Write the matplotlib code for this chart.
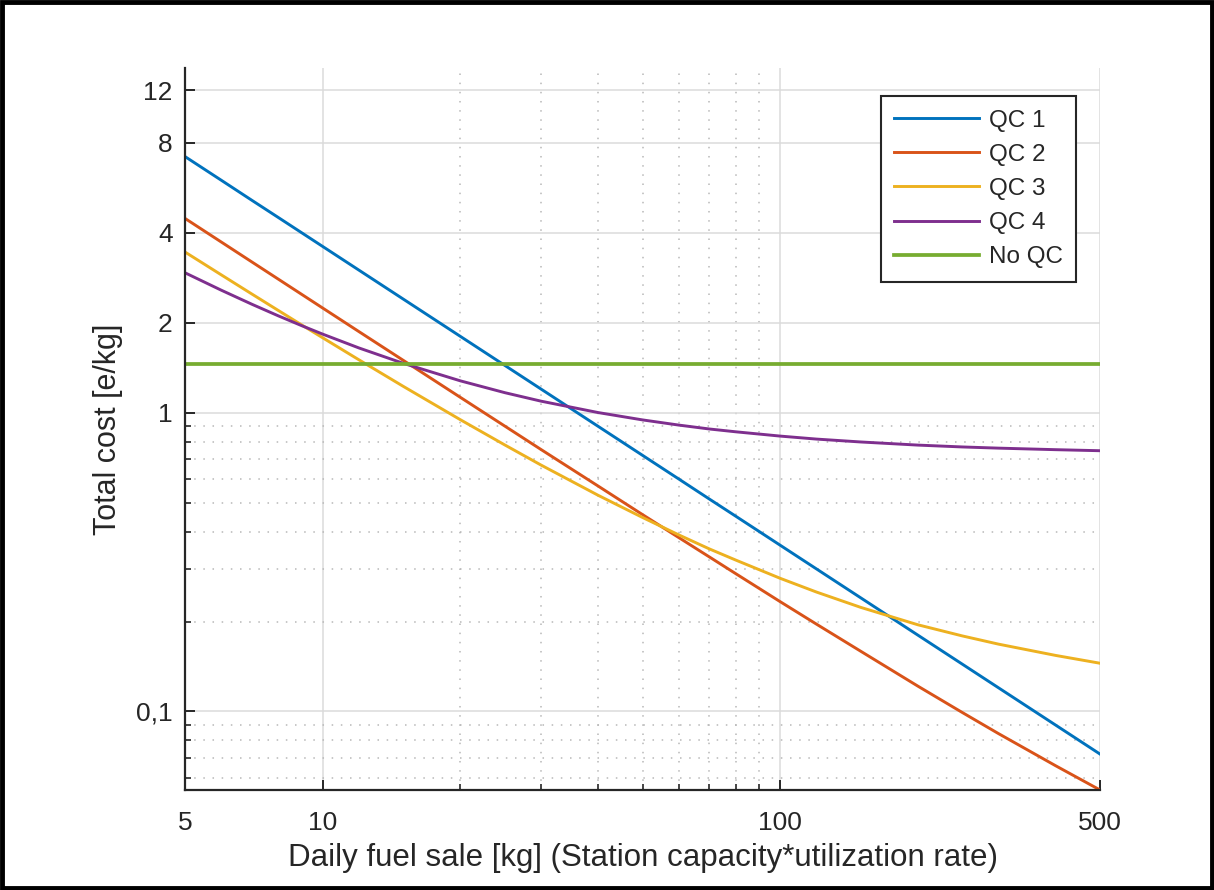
import numpy as np
import matplotlib
matplotlib.use("Agg")
import matplotlib.pyplot as plt
from matplotlib.ticker import FixedLocator, NullFormatter
from matplotlib.patches import Rectangle

plt.rcParams['font.family'] = ['Liberation Sans', 'DejaVu Sans']

# values
sale = [5, 6, 7, 8, 9, 10, 12, 15, 20, 25, 30, 40, 50, 60, 70, 80,
        100, 120, 150, 200, 250, 300, 400, 500]
qc1 = [7.2, 6.0, 5.14, 4.5, 4.0, 3.6, 3.0, 2.4, 1.8, 1.44, 1.2, 0.9, 0.72, 0.6,
       0.514, 0.45, 0.36, 0.3, 0.24, 0.18, 0.144, 0.12, 0.09, 0.072]
qc2 = [4.47, 3.727, 3.196, 2.798, 2.488, 2.24, 1.868, 1.497, 1.125, 0.902, 0.753,
       0.568, 0.456, 0.382, 0.329, 0.289, 0.233, 0.196, 0.159, 0.1215, 0.0992,
       0.0843, 0.0658, 0.0546]
qc3 = [3.45, 2.894, 2.496, 2.198, 1.966, 1.781, 1.503, 1.225, 0.947, 0.780, 0.668,
       0.529, 0.446, 0.390, 0.350, 0.321, 0.279, 0.251, 0.223, 0.195, 0.179,
       0.168, 0.154, 0.145]
qc4 = [2.94, 2.571, 2.307, 2.109, 1.955, 1.832, 1.647, 1.463, 1.278, 1.167, 1.093,
       1.001, 0.946, 0.909, 0.882, 0.863, 0.835, 0.816, 0.798, 0.779, 0.768,
       0.761, 0.752, 0.746]
no_qc = 1.45

labels = ["QC 1", "QC 2", "QC 3", "QC 4", "No QC"]
colors = ["#0072BD", "#D95319", "#EDB120", "#7E2F8E", "#77AC30"]

xticks = [5, 10, 100, 500]
xtick_labels = ["5", "10", "100", "500"]
yticks = [0.1, 1, 2, 4, 8, 12]
ytick_labels = ["0,1", "1", "2", "4", "8", "12"]
xminor = [20, 30, 40, 50, 60, 70, 80, 90]
yminor = [0.06, 0.07, 0.08, 0.09, 0.2, 0.3, 0.4, 0.5, 0.6, 0.7, 0.8, 0.9]

dark = (0.15, 0.15, 0.15)

fig = plt.figure(figsize=(12.14, 8.9), dpi=100)
ax = fig.add_axes([0.1524, 0.1124, 0.7537, 0.8112])

for y, lab, c in zip([qc1, qc2, qc3, qc4], labels[:4], colors[:4]):
    ax.plot(sale, y, color=c, lw=2.1, label=lab)
ax.plot([sale[0], sale[-1]], [no_qc, no_qc], color=colors[4], lw=2.7, label=labels[4])

ax.set_xscale('log')
ax.set_yscale('log')
ax.set_xlim(5, 500)
ax.set_ylim(0.0546, 14.25)

ax.xaxis.set_major_locator(FixedLocator(xticks))
ax.set_xticklabels(xtick_labels)
ax.yaxis.set_major_locator(FixedLocator(yticks))
ax.set_yticklabels(ytick_labels)
ax.xaxis.set_minor_locator(FixedLocator(xminor))
ax.yaxis.set_minor_locator(FixedLocator(yminor))
ax.xaxis.set_minor_formatter(NullFormatter())
ax.yaxis.set_minor_formatter(NullFormatter())

ax.grid(True, which='major', color=(0.86, 0.86, 0.86), lw=1.1)
ax.grid(True, which='minor', color=(0.72, 0.72, 0.72), lw=1.1, linestyle=(0, (1, 5)))
ax.set_axisbelow(True)

for s in ['top', 'right']:
    ax.spines[s].set_visible(False)
for s in ['left', 'bottom']:
    ax.spines[s].set_color(dark)
    ax.spines[s].set_linewidth(1.6)

ax.tick_params(which='major', direction='in', length=7, width=1.4, colors=dark,
               labelsize=19, labelcolor=dark)
ax.tick_params(which='minor', direction='in', length=4, width=1.2, colors=dark)
ax.tick_params(axis='x', which='major', pad=15)
ax.tick_params(axis='y', which='major', pad=9)

ax.set_xlabel("Daily fuel sale [kg] (Station capacity*utilization rate)",
              fontsize=22.5, color=dark, labelpad=6)
ax.set_ylabel("Total cost [e/kg]", fontsize=22, color=dark, labelpad=9)

leg = ax.legend(loc='upper right', bbox_to_anchor=(0.974, 0.961), fontsize=17.5,
                fancybox=False, framealpha=1, edgecolor=dark, handlelength=3.5,
                handletextpad=0.4, labelspacing=0.5, borderpad=0.55,
                borderaxespad=0)
leg.get_frame().set_linewidth(1.5)
for t in leg.get_texts():
    t.set_color(dark)

fig.patches.append(Rectangle((0.002, 0.002), 0.996, 0.996, transform=fig.transFigure,
                             fill=False, edgecolor='black', lw=3.5))

fig.savefig("out.png", dpi=100)
